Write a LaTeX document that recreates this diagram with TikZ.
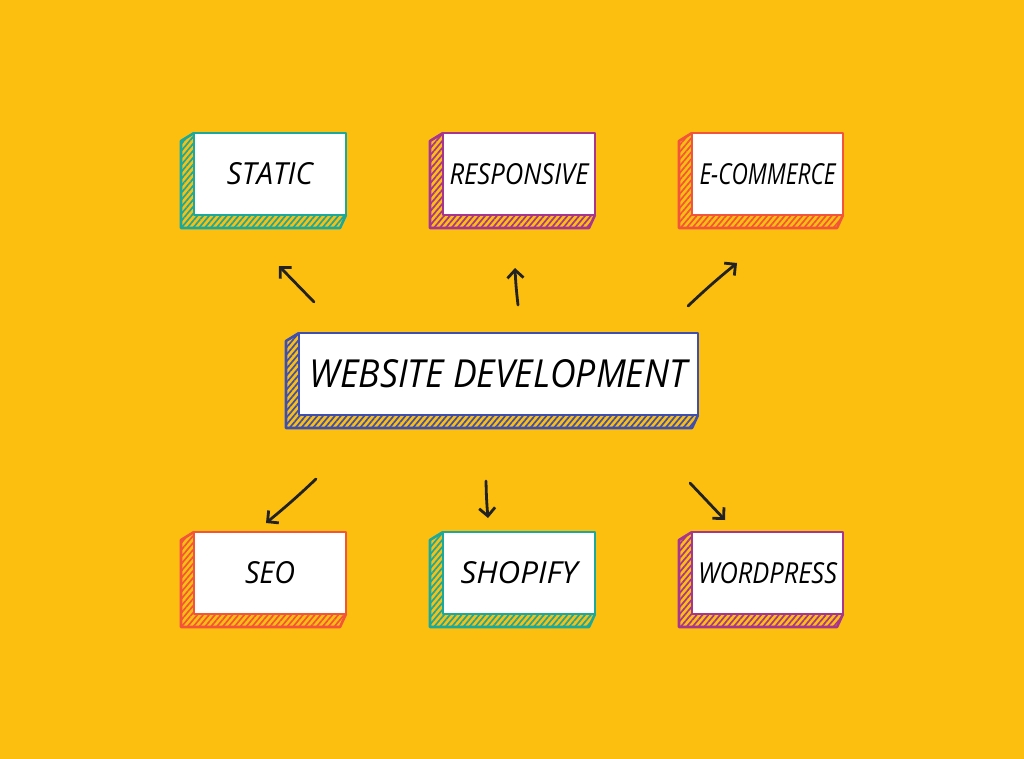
\documentclass[tikz,border=0pt]{standalone}
\usepackage{fontspec}
\newfontfamily\hand{Open Sans}
\usetikzlibrary{arrows.meta,patterns.meta}
\definecolor{bgy}{HTML}{FCBF10}
\definecolor{cteal}{HTML}{1BA99B}
\definecolor{cpurple}{HTML}{A8368F}
\definecolor{corange}{HTML}{F3553A}
\definecolor{cblue}{HTML}{3F4FAF}
\definecolor{ink}{HTML}{222222}
\tikzset{
  arr/.style={draw=ink, line width=2.8pt, line cap=round, line join=round,
    -{Straight Barb[length=8pt,width=16pt,line width=2.8pt]}},
  front/.style={fill=white, line width=2.8pt, inner sep=0pt, outer sep=0pt, line join=round},
}
% #1 name, #2 x1, #3 y1, #4 x2, #5 y2, #6 colour, #7 text, #8 text width, #9 text height
\newcommand{\mkbox}[9]{%
  \path[preaction={fill=bgy}, pattern={Lines[angle=50,distance=4.5pt,line width=1.7pt]}, pattern color=#6]
    (#2,#3) -- (#2-13,#3+8) -- (#2-13,#5+13) -- (#4-6,#5+13) -- (#4,#5) -- cycle;
  \draw[#6, line width=2.6pt, line join=round]
    (#2,#3) -- (#2-13,#3+8) -- (#2-13,#5+13) -- (#4-6,#5+13) -- (#4,#5);
  \node[front, draw=#6, minimum width={#4pt-#2pt}, minimum height={#5pt-#3pt}]
    (#1) at ({(#2+#4)/2},{(#3+#5)/2}) {\resizebox{#8pt}{#9pt}{\hand\itshape #7}};
}
\begin{document}
\begin{tikzpicture}[x=1pt,y=-1pt]
\fill[bgy] (0,0) rectangle (1024,759);
\useasboundingbox (0,0) rectangle (1024,759);

\mkbox{static}{194}{133}{346}{215}{cteal}{STATIC}{86}{22}
\mkbox{responsive}{443}{133}{595}{215}{cpurple}{RESPONSIVE}{139}{21}
\mkbox{ecommerce}{692}{133}{843}{215}{corange}{E-COMMERCE}{136}{21}
\mkbox{main}{299}{333}{698}{415}{cblue}{WEBSITE DEVELOPMENT}{377}{28}
\mkbox{seo}{194}{532}{346}{614}{corange}{SEO}{50}{22}
\mkbox{shopify}{443}{532}{595}{614}{cteal}{SHOPIFY}{117}{22}
\mkbox{wordpress}{692}{532}{843}{614}{cpurple}{WORDPRESS}{139}{21}

\coordinate (a1s) at (314,302);
\coordinate (a1e) at (279,266);
\coordinate (a2s) at (518,305);
\coordinate (a2e) at (515,268);
\coordinate (a3s) at (688,306);
\coordinate (a3e) at (737,263);
\coordinate (a4s) at (316,479);
\coordinate (a4e) at (266,523);
\coordinate (a5s) at (486,481);
\coordinate (a5e) at (488,518);
\coordinate (a6s) at (690,483);
\coordinate (a6e) at (725,520);

\draw[arr] (a1s) -- (a1e);
\draw[arr] (a2s) to[bend left=2] (a2e);
\draw[arr] (a3s) to[bend left=2] (a3e);
\draw[arr] (a4s) to[bend left=2] (a4e);
\draw[arr] (a5s) to[bend right=2] (a5e);
\draw[arr] (a6s) -- (a6e);
\end{tikzpicture}
\end{document}
